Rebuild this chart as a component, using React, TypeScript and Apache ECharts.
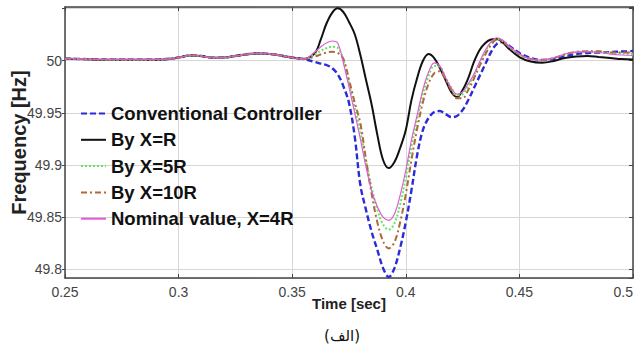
import React, { useEffect, useRef } from "react";
import * as echarts from "echarts";

const time = [
  0.25, 0.26, 0.27, 0.28, 0.29, 0.30, 0.305, 0.31, 0.315, 0.32, 0.325, 0.33, 0.335, 0.34, 0.345, 0.35, 0.355,
  0.36, 0.3625, 0.365, 0.3675, 0.37, 0.3725, 0.375, 0.3775, 0.38, 0.3825, 0.385, 0.3875, 0.39, 0.3925, 0.395,
  0.3975, 0.40, 0.4025, 0.405, 0.4075, 0.41, 0.4125, 0.415, 0.4175, 0.42, 0.4225, 0.425, 0.4275, 0.43, 0.4325,
  0.435, 0.4375, 0.44, 0.4425, 0.445,
  0.45, 0.455, 0.46, 0.465, 0.47, 0.475, 0.48, 0.485, 0.49, 0.495, 0.5,
];

const conventional = [
  50.002, 50.0015, 50.001, 50.001, 50.001, 50.003, 50.005, 50.0045, 50.0028, 50.003, 50.0045, 50.0062, 50.007, 50.0065, 50.005, 50.003, 50.0016,
  49.9988, 49.9973, 49.9959, 49.993, 49.9872, 49.9757, 49.9594, 49.9277, 49.8808, 49.8568, 49.8357, 49.8185, 49.8012, 49.7926, 49.8012,
  49.8204, 49.8453, 49.876, 49.9096, 49.9335, 49.945, 49.9508, 49.9518, 49.9489, 49.946, 49.947, 49.9527, 49.9623, 49.9738, 49.9853,
  49.9968, 50.0083, 50.016, 50.0179, 50.0151,
  50.0074, 50.0026, 50.0007, 50.0016, 50.0045, 50.0064, 50.0074, 50.0079, 50.0083, 50.0088, 50.0093,
];

const byR = [
  50.002, 50.0015, 50.001, 50.001, 50.001, 50.003, 50.005, 50.0045, 50.0028, 50.003, 50.0045, 50.0062, 50.007, 50.0065, 50.005, 50.003, 50.0016,
  50.0074, 50.0199, 50.0352, 50.0457, 50.0502, 50.0467, 50.0371, 50.0256, 50.0055, 49.9815, 49.9575, 49.9287, 49.9048, 49.8971, 49.9029,
  49.9163, 49.9335, 49.9623, 49.9834, 49.9997, 50.0064, 50.0026, 49.993, 49.9815, 49.97, 49.9652, 49.9719, 49.9834, 49.9988, 50.0103,
  50.017, 50.0203, 50.0208, 50.0179, 50.0122,
  50.0035, 49.9992, 49.9981, 49.9997, 50.0026, 50.004, 50.0045, 50.0035, 50.0026, 50.0016, 50.0012,
];

const by5R = [
  50.002, 50.0015, 50.001, 50.001, 50.001, 50.003, 50.005, 50.0045, 50.0028, 50.003, 50.0045, 50.0062, 50.007, 50.0065, 50.005, 50.003, 50.0016,
  50.006, 50.0095, 50.012, 50.0135, 50.0125, 50.001, 49.978, 49.955, 49.932, 49.904, 49.878, 49.857, 49.843, 49.838, 49.844,
  49.862, 49.888, 49.918, 49.944, 49.968, 49.985, 49.995, 49.994, 49.984, 49.974, 49.967, 49.968, 49.976, 49.986, 49.998,
  50.009, 50.017, 50.021, 50.019, 50.014,
  50.006, 50.0016, 50.0007, 50.0026, 50.006, 50.008, 50.0088, 50.0085, 50.0075, 50.007, 50.0065,
];

const by10R = [
  50.002, 50.0015, 50.001, 50.001, 50.001, 50.003, 50.005, 50.0045, 50.0028, 50.003, 50.0045, 50.0062, 50.007, 50.0065, 50.005, 50.003, 50.0016,
  50.004, 50.006, 50.0078, 50.0086, 50.0075, 50.002, 49.982, 49.96, 49.94, 49.905, 49.872, 49.845, 49.827, 49.82, 49.826,
  49.845, 49.872, 49.905, 49.935, 49.96, 49.978, 49.988, 49.99, 49.982, 49.972, 49.964, 49.964, 49.972, 49.983, 49.995,
  50.006, 50.015, 50.02, 50.019, 50.014,
  50.006, 50.0016, 50.0007, 50.0026, 50.006, 50.0085, 50.009, 50.009, 50.008, 50.008, 50.0078,
];

const nominal = [
  50.002, 50.0015, 50.001, 50.001, 50.001, 50.003, 50.005, 50.0045, 50.0028, 50.003, 50.0045, 50.0062, 50.007, 50.0065, 50.005, 50.003, 50.0016,
  50.0083, 50.0131, 50.017, 50.0189, 50.017, 49.998, 49.975, 49.95, 49.925, 49.898, 49.875, 49.86, 49.85, 49.847, 49.853,
  49.871, 49.895, 49.924, 49.948, 49.972, 49.989, 49.998, 49.995, 49.984, 49.974, 49.968, 49.97, 49.978, 49.987, 49.999,
  50.01, 50.018, 50.022, 50.02, 50.015,
  50.0064, 50.0016, 50.0007, 50.0026, 50.0064, 50.0083, 50.0088, 50.0079, 50.0064, 50.0055, 50.005,
];

const seriesNames = [
  "Conventional Controller",
  "By X=R",
  "By X=5R",
  "By X=10R",
  "Nominal value, X=4R",
];

const yTickLabels = ["49.8", "49.85", "49.9", "49.95", "50"];

const xMin = 0.25;
const xMax = 0.5;
const xStep = 0.05;
const yMin = 49.7917;
const yMax = 50.0515;

const FONT = 'Arial, "Liberation Sans", Helvetica, sans-serif';

export default function App() {
  const ref = useRef<HTMLDivElement>(null);

  useEffect(() => {
    if (!ref.current) return;
    const chart = echarts.init(ref.current, null, { renderer: "svg" });
    const pair = (ys: number[]) => time.map((t, i) => [t, ys[i]]);

    const styles = [
      { data: conventional, color: "#2b2bd9", width: 2.4, type: [6, 3] as any },
      { data: byR, color: "#111111", width: 2, type: "solid" as any },
      { data: by5R, color: "#5ee85e", width: 2, type: [2, 2] as any },
      { data: by10R, color: "#b0683c", width: 2, type: [6, 3, 2, 3] as any },
      { data: nominal, color: "#e05cd6", width: 1.2, type: "solid" as any },
    ];

    const axisLineStyle = { color: "#444", width: 1.5 };

    const yFormatter = (v: number) => {
      const s = String(+v.toFixed(2));
      return yTickLabels.indexOf(s) >= 0 ? s : "";
    };

    chart.setOption({
      animation: false,
      backgroundColor: "#fff",
      grid: {
        left: 65,
        right: 4,
        top: 7,
        bottom: 74,
        containLabel: false,
        outerBoundsMode: "none",
      },
      legend: {
        orient: "vertical",
        left: 75,
        top: 99,
        itemWidth: 25,
        itemHeight: 16,
        itemGap: 7.3,
        itemStyle: { opacity: 0 },
        textStyle: {
          fontFamily: FONT,
          fontSize: 18.5,
          fontWeight: "bold",
          color: "#111",
          lineHeight: 18,
        },
        data: seriesNames,
      },
      xAxis: [
        {
          type: "value",
          min: xMin,
          max: xMax,
          interval: xStep,
          name: "Time [sec]",
          nameLocation: "middle",
          nameGap: 18,
          nameMoveOverlap: false,
          nameTextStyle: { fontFamily: FONT, fontSize: 15, fontWeight: "bold", color: "#222" },
          axisLine: { onZero: false, lineStyle: axisLineStyle },
          axisTick: { inside: true, length: 4, lineStyle: { color: "#444" } },
          axisLabel: {
            margin: 7,
            fontFamily: FONT,
            fontSize: 14,
            color: "#444",
            alignMaxLabel: "right",
          },
          splitLine: { show: true, lineStyle: { color: "#d6d6d6", width: 1 } },
        },
        {
          type: "value",
          position: "top",
          min: xMin,
          max: xMax,
          interval: xStep,
          axisLine: { onZero: false, lineStyle: axisLineStyle },
          axisTick: { inside: true, length: 4, lineStyle: { color: "#444" } },
          axisLabel: { show: false },
          splitLine: { show: false },
        },
      ],
      yAxis: [
        {
          type: "value",
          min: yMin,
          max: yMax,
          splitNumber: 5,
          name: "Frequency [Hz]",
          nameLocation: "middle",
          nameGap: 36,
          nameMoveOverlap: false,
          nameTextStyle: { fontFamily: FONT, fontSize: 20, fontWeight: "bold", color: "#222" },
          axisLine: { onZero: false, lineStyle: axisLineStyle },
          axisTick: { inside: false, length: 3, lineStyle: { color: "#444" } },
          axisLabel: {
            margin: 3,
            fontFamily: FONT,
            fontSize: 14,
            color: "#444",
            showMinLabel: false,
            showMaxLabel: false,
            formatter: yFormatter,
          },
          splitLine: { show: true, lineStyle: { color: "#d6d6d6", width: 1 } },
        },
        {
          type: "value",
          position: "right",
          min: yMin,
          max: yMax,
          splitNumber: 5,
          axisLine: { onZero: false, lineStyle: axisLineStyle },
          axisTick: { inside: true, length: 4, lineStyle: { color: "#444" } },
          axisLabel: { show: false },
          splitLine: { show: false },
        },
      ],
      graphic: [
        {
          type: "text",
          x: 342,
          y: 336,
          style: {
            text: "(الف)",
            fontFamily: '"DejaVu Sans", sans-serif',
            fontSize: 15,
            fill: "#111",
            textAlign: "center",
            textVerticalAlign: "middle",
          },
        },
      ],
      series: styles.map((s, i) => ({
        name: seriesNames[i],
        type: "line",
        xAxisIndex: 0,
        yAxisIndex: 0,
        data: pair(s.data),
        showSymbol: false,
        symbol: "none",
        smooth: 0.35,
        color: s.color,
        lineStyle: { color: s.color, width: s.width, type: s.type },
      })),
    });

    return () => chart.dispose();
  }, []);

  return (
    <div
      ref={ref}
      style={{ position: "fixed", left: 0, top: 0, width: 637, height: 352 }}
    />
  );
}
